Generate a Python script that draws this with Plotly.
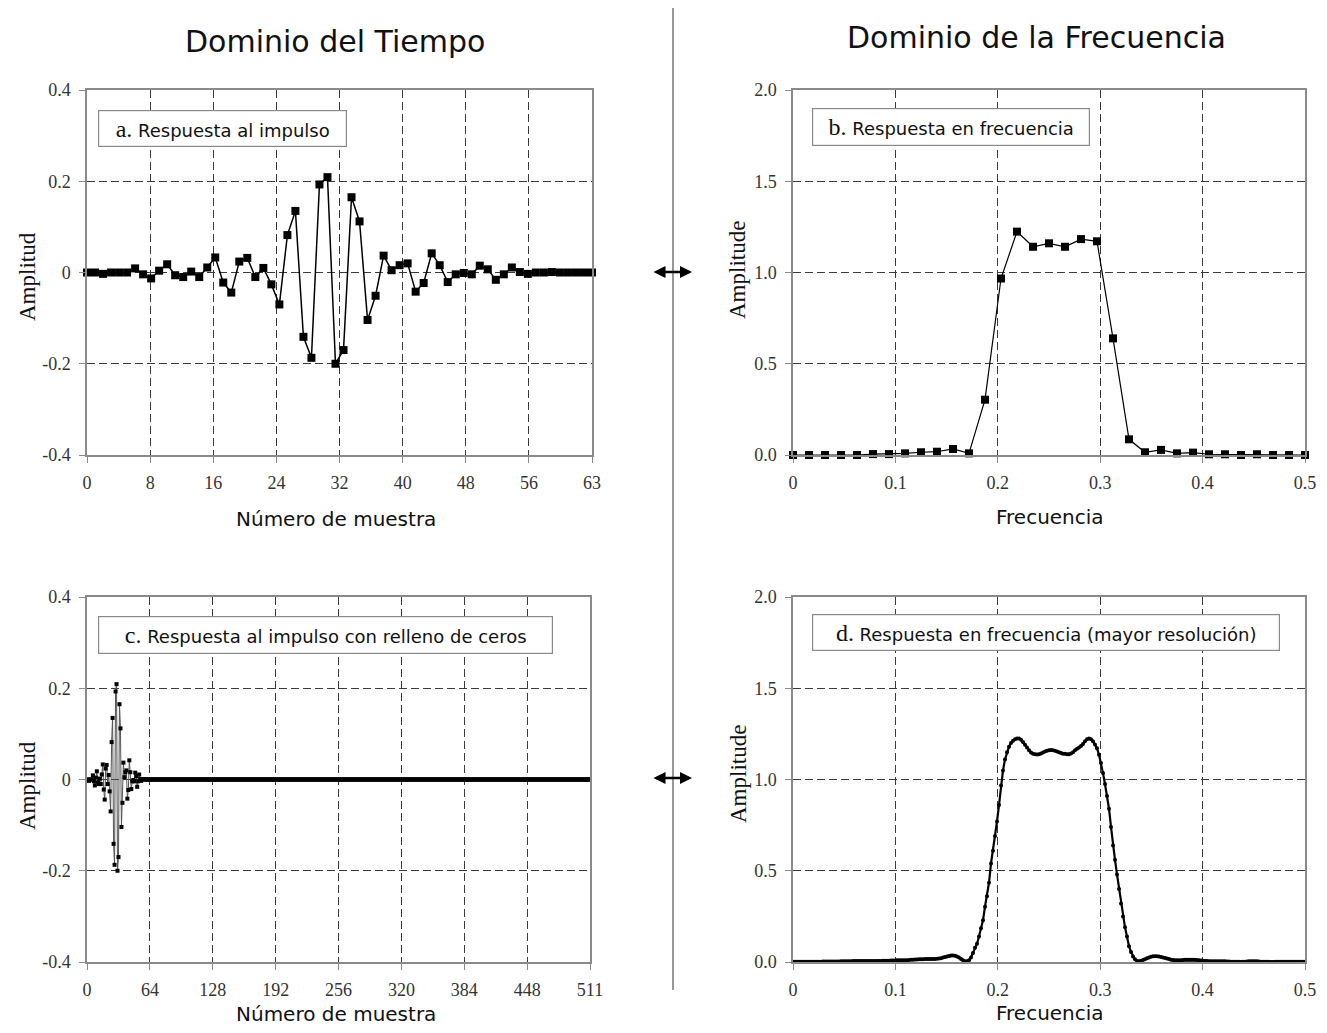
import plotly.graph_objects as go

# ---------------- data ----------------
impulse = [0.0, 0.0, -0.003, 0.0, 0.0, 0.0, 0.009, -0.004, -0.013, 0.004,
           0.018, -0.006, -0.010, 0.002, -0.010, 0.011, 0.033, -0.022, -0.044, 0.024,
           0.032, -0.010, 0.010, -0.026, -0.070, 0.082, 0.135, -0.141, -0.187, 0.193,
           0.209, -0.200, -0.170, 0.165, 0.112, -0.104, -0.051, 0.037, 0.005, 0.016,
           0.020, -0.042, -0.023, 0.042, 0.016, -0.021, -0.004, -0.001, -0.004, 0.015,
           0.007, -0.016, -0.004, 0.011, 0.001, -0.003, 0.0, 0.0, 0.001, 0.0,
           0.0, 0.0, 0.0, 0.0]
samples_a = list(range(64))

padding_zeros = [0.0] * 448
padded = impulse + padding_zeros
samples_c = list(range(512))

freq_b = [k / 64 for k in range(33)]
resp_b = [0.0, 0.0, 0.0, 0.0, 0.0, 0.005, 0.005, 0.009, 0.015, 0.018,
          0.033, 0.009, 0.303, 0.967, 1.224, 1.141, 1.160, 1.141, 1.183, 1.171,
          0.639, 0.086, 0.015, 0.028, 0.009, 0.013, 0.004, 0.004, 0.0, 0.004,
          0.0, 0.0, 0.0]

freq_d = [k / 512 for k in range(257)]
resp_d = [
    0.002, 0.002, 0.001, 0.001, 0.002, 0.002, 0.002, 0.001, 0.001, 0.002, 0.002, 0.002, 0.002, 0.002, 0.002, 0.003,
    0.003, 0.003, 0.003, 0.003, 0.003, 0.003, 0.003, 0.003, 0.004, 0.004, 0.004, 0.004, 0.004, 0.004, 0.005, 0.005,
    0.005, 0.005, 0.005, 0.005, 0.005, 0.005, 0.005, 0.005, 0.005, 0.006, 0.006, 0.006, 0.006, 0.007, 0.007, 0.007,
    0.007, 0.008, 0.008, 0.008, 0.009, 0.009, 0.009, 0.009, 0.009, 0.010, 0.011, 0.012, 0.013, 0.014, 0.014, 0.015,
    0.015, 0.015, 0.016, 0.016, 0.016, 0.016, 0.017, 0.017, 0.018, 0.019, 0.021, 0.024, 0.027, 0.030, 0.033, 0.035,
    0.035, 0.034, 0.030, 0.024, 0.016, 0.009, 0.004, 0.004, 0.009, 0.025, 0.050, 0.078, 0.100, 0.140, 0.185, 0.229,
    0.303, 0.360, 0.434, 0.540, 0.610, 0.690, 0.770, 0.860, 0.967, 1.050, 1.110, 1.150, 1.180, 1.200, 1.213, 1.220,
    1.224, 1.225, 1.218, 1.205, 1.190, 1.175, 1.160, 1.148, 1.141, 1.138, 1.137, 1.138, 1.142, 1.148, 1.154, 1.158,
    1.160, 1.161, 1.160, 1.158, 1.154, 1.149, 1.145, 1.141, 1.141, 1.139, 1.139, 1.142, 1.150, 1.160, 1.168, 1.176,
    1.183, 1.195, 1.210, 1.220, 1.225, 1.220, 1.210, 1.192, 1.171, 1.135, 1.090, 1.035, 0.975, 0.910, 0.840, 0.740,
    0.639, 0.560, 0.480, 0.400, 0.320, 0.250, 0.190, 0.140, 0.086, 0.055, 0.030, 0.015, 0.006, 0.004, 0.007, 0.011,
    0.015, 0.020, 0.025, 0.029, 0.031, 0.032, 0.032, 0.030, 0.028, 0.025, 0.022, 0.019, 0.016, 0.013, 0.011, 0.010,
    0.009, 0.009, 0.010, 0.011, 0.012, 0.013, 0.013, 0.013, 0.013, 0.012, 0.011, 0.009, 0.008, 0.007, 0.006, 0.005,
    0.004, 0.004, 0.004, 0.004, 0.004, 0.004, 0.004, 0.004, 0.004, 0.003, 0.003, 0.002, 0.002, 0.001, 0.001, 0.001,
    0.000, 0.001, 0.002, 0.003, 0.004, 0.004, 0.004, 0.004, 0.004, 0.003, 0.002, 0.002, 0.001, 0.001, 0.001, 0.000,
    0.000, 0.001, 0.001, 0.001, 0.001, 0.001, 0.001, 0.001, 0.001, 0.001, 0.001, 0.001, 0.001, 0.001, 0.001, 0.001,
    0.001]

ticks_a_text = ['0', '8', '16', '24', '32', '40', '48', '56', '63']
ticks_c_text = ['0', '64', '128', '192', '256', '320', '384', '448', '511']
ticks_time_y = [-0.4, -0.2, 0, 0.2, 0.4]
ticks_time_y_text = ['-0.4', '-0.2', '0', '0.2', '0.4']
ticks_freq_x = [0, 0.1, 0.2, 0.3, 0.4, 0.5]
ticks_freq_x_text = ['0', '0.1', '0.2', '0.3', '0.4', '0.5']
ticks_freq_y = [0, 0.5, 1.0, 1.5, 2.0]
ticks_freq_y_text = ['0.0', '0.5', '1.0', '1.5', '2.0']

# ---------------- layout helpers ----------------
OFF = 8                      # default page margin around the plot div
W, H = 1327 - 2 * OFF, 1033 - 2 * OFF
def fx(x): return (x - OFF) / W
def fy(y): return 1 - (y - OFF) / H

SERIF = "Liberation Serif"
SANS = "DejaVu Sans"

fig = go.Figure()

fig.add_trace(go.Scatter(x=samples_a, y=impulse, mode='lines+markers',
                         line=dict(color='black', width=1.5),
                         marker=dict(symbol='square', size=8, color='black'),
                         cliponaxis=False, xaxis='x', yaxis='y', showlegend=False))
fig.add_trace(go.Scatter(x=freq_b, y=resp_b, mode='lines+markers',
                         line=dict(color='black', width=1.2),
                         marker=dict(symbol='square', size=8, color='black'),
                         cliponaxis=False, xaxis='x2', yaxis='y2', showlegend=False))
fig.add_trace(go.Scatter(x=samples_c, y=padded, mode='lines+markers',
                         line=dict(color='#555', width=1),
                         marker=dict(symbol='square', size=4, color='black'),
                         cliponaxis=False, xaxis='x3', yaxis='y3', showlegend=False))
fig.add_trace(go.Scatter(x=freq_d, y=resp_d, mode='lines+markers',
                         line=dict(color='black', width=2.2),
                         marker=dict(symbol='circle', size=4, color='black'),
                         cliponaxis=False, xaxis='x4', yaxis='y4', showlegend=False))

common = dict(showline=True, linecolor='#8a8a8a', linewidth=1.5, mirror=True,
              ticks='outside', ticklen=6, tickcolor='#8a8a8a', tickwidth=1.2,
              showgrid=True, gridcolor='#3a3a3a', gridwidth=1, griddash='8px,4px',
              zeroline=False, tickfont=dict(family=SERIF, size=18, color='#333'),
              fixedrange=True, ticklabelstandoff=5, automargin=False)

def axis(domain, rng, vals, text, anchor):
    d = dict(common)
    d.update(domain=domain, range=rng, tickvals=vals, ticktext=text, anchor=anchor, tickmode='array')
    return d

ta_vals = [k * 63 / 8 for k in range(9)]
tc_vals = [k * 511 / 8 for k in range(9)]

fig.update_layout(
    width=W, height=H, margin=dict(l=0, r=0, t=0, b=0, pad=0, autoexpand=False),
    paper_bgcolor='white', plot_bgcolor='white',
    xaxis=axis([fx(87), fx(592)], [0, 63], ta_vals, ticks_a_text, 'y'),
    yaxis=axis([fy(455), fy(90)], [-0.4, 0.4], ticks_time_y, ticks_time_y_text, 'x'),
    xaxis2=axis([fx(793), fx(1305)], [0, 0.5], ticks_freq_x, ticks_freq_x_text, 'y2'),
    yaxis2=axis([fy(455), fy(90)], [0, 2], ticks_freq_y, ticks_freq_y_text, 'x2'),
    xaxis3=axis([fx(87), fx(590)], [0, 511], tc_vals, ticks_c_text, 'y3'),
    yaxis3=axis([fy(962), fy(597)], [-0.4, 0.4], ticks_time_y, ticks_time_y_text, 'x3'),
    xaxis4=axis([fx(793), fx(1305)], [0, 0.5], ticks_freq_x, ticks_freq_x_text, 'y4'),
    yaxis4=axis([fy(962), fy(597)], [0, 2], ticks_freq_y, ticks_freq_y_text, 'x4'),
)

ann = []
def text(x, y, t, size, family, angle=0, color='#111'):
    ann.append(dict(x=fx(x), y=fy(y), xref='paper', yref='paper', text=t, showarrow=False,
                    font=dict(family=family, size=size, color=color), textangle=angle,
                    xanchor='center', yanchor='middle'))

text(335, 42, 'Dominio del Tiempo', 30, SANS)
text(1036, 38, 'Dominio de la Frecuencia', 30, SANS)
text(336, 519, 'Número de muestra', 20, SANS)
text(336, 1014, 'Número de muestra', 20, SANS)
text(1050, 517, 'Frecuencia', 20, SANS)
text(1050, 1013, 'Frecuencia', 20, SANS)
text(27, 277, 'Amplitud', 23, SERIF, angle=-90)
text(27, 786, 'Amplitud', 23, SERIF, angle=-90)
text(738, 270, 'Amplitude', 23, SERIF, angle=-90)
text(738, 774, 'Amplitude', 23, SERIF, angle=-90)

def box(x0, y0, x1, y1, letter, label):
    ann.append(dict(x=fx(x0), y=fy(y0), xref='paper', yref='paper', showarrow=False,
                    xanchor='left', yanchor='top',
                    text=f'<span style="font-family:{SERIF};font-size:24px">{letter}</span> {label}',
                    font=dict(family=SANS, size=18, color='#111'),
                    bgcolor='white', bordercolor='#8a8a8a', borderwidth=1.2, borderpad=0,
                    width=x1 - x0 - 2, height=y1 - y0 - 2, align='center', valign='middle'))

box(98, 110, 347, 147, 'a.', 'Respuesta al impulso')
box(812, 108, 1090, 146, 'b.', 'Respuesta en frecuencia')
box(98, 616, 553, 654, 'c.', 'Respuesta al impulso con relleno de ceros')
box(812, 614, 1280, 651, 'd.', 'Respuesta en frecuencia (mayor resolución)')

for yy in (272, 778):
    ann.append(dict(x=fx(692), y=fy(yy), ax=-40, ay=0, xref='paper', yref='paper',
                    axref='pixel', ayref='pixel', text='', showarrow=True,
                    arrowhead=2, startarrowhead=2, arrowside='end+start',
                    arrowsize=1, startarrowsize=1, arrowwidth=2.4, arrowcolor='black'))

fig.update_layout(annotations=ann)

fig.add_shape(type='line', xref='paper', yref='paper', x0=fx(673), x1=fx(673),
              y0=fy(8), y1=fy(990), line=dict(color='#777', width=1.5))

fig.write_html("out.html")
